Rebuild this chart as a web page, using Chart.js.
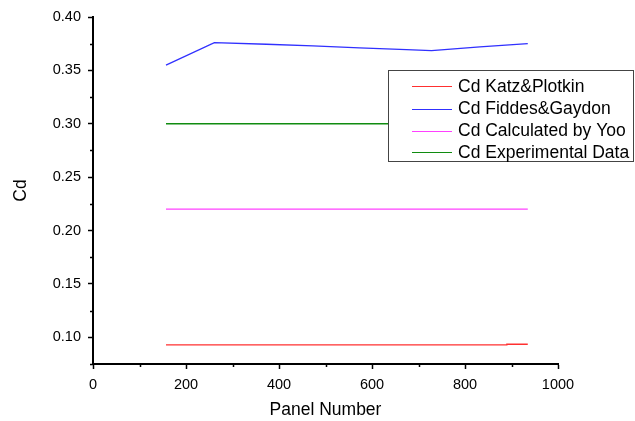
<!DOCTYPE html>
<html><head><meta charset="utf-8">
<script src="https://cdn.jsdelivr.net/npm/chart.js@4.4.1/dist/chart.umd.min.js"></script>
<style>html,body{margin:0;padding:0;background:#fff;}canvas{display:block;}</style>
</head><body>
<canvas id="c" width="635" height="421"></canvas>
<script>
const seriesNames = ['Cd Katz&Plotkin', 'Cd Fiddes&Gaydon', 'Cd Calculated by Yoo', 'Cd Experimental Data'];
const katzX = [157, 889, 890, 935];
const katzY = [0.0929, 0.0929, 0.0935, 0.0935];
const fiddesX = [157, 261, 373, 473, 573, 674, 728, 832, 935];
const fiddesY = [0.355, 0.376, 0.3745, 0.373, 0.371, 0.3695, 0.3686, 0.372, 0.375];
const yooX = [157, 935];
const yooY = [0.22, 0.22];
const expX = [157, 935];
const expY = [0.30, 0.30];
const xTicks = [0, 200, 400, 600, 800, 1000];
const xMinorTicks = [100, 300, 500, 700, 900];
const yTicks = [0.10, 0.15, 0.20, 0.25, 0.30, 0.35, 0.40];
const yMinorTicks = [0.075, 0.125, 0.175, 0.225, 0.275, 0.325, 0.375];
const colors = ['#ff3030', '#3030ff', '#ff40ff', '#108c10'];

const pts = (xs, ys) => xs.map((x, i) => ({x, y: ys[i]}));
const FONT = "'Liberation Sans', Arial, sans-serif";

const minorPlugin = {
  id: 'minor',
  afterDraw(chart) {
    const ctx = chart.ctx, xs = chart.scales.x, ys = chart.scales.y;
    ctx.save();
    ctx.strokeStyle = '#000';
    ctx.lineWidth = 1.5;
    ctx.beginPath();
    xMinorTicks.forEach(v => {
      const px = Math.round(xs.getPixelForValue(v)) + 0.5;
      ctx.moveTo(px, xs.top); ctx.lineTo(px, xs.top + 3);
    });
    yMinorTicks.forEach(v => {
      const py = Math.round(ys.getPixelForValue(v)) + 0.5;
      ctx.moveTo(ys.right, py); ctx.lineTo(ys.right - 3, py);
    });
    ctx.stroke();
    ctx.restore();
  }
};

const legendPlugin = {
  id: 'boxLegend',
  afterDatasetsDraw(chart) {
    const ctx = chart.ctx;
    const left = 388, top = 70, right = 634, bottom = 162;
    ctx.save();
    ctx.fillStyle = '#fff';
    ctx.fillRect(left, top, right - left, bottom - top);
    ctx.strokeStyle = '#444';
    ctx.lineWidth = 1;
    ctx.strokeRect(left + 0.5, top + 0.5, right - left - 1, bottom - top - 1);
    ctx.font = '17.5px ' + FONT;
    ctx.textBaseline = 'middle';
    ctx.textAlign = 'left';
    const rows = [86, 108.5, 130.5, 152];
    chart.data.datasets.forEach((ds, i) => {
      const y = Math.round(rows[i]) + 0.5;
      ctx.strokeStyle = ds.borderColor;
      ctx.lineWidth = 1.2;
      ctx.beginPath(); ctx.moveTo(412, y); ctx.lineTo(452, y); ctx.stroke();
      ctx.fillStyle = '#000';
      ctx.fillText(ds.label, 458, rows[i] + 1);
    });
    ctx.restore();
  }
};

new Chart(document.getElementById('c'), {
  type: 'line',
  data: {
    datasets: [
      {label: seriesNames[0], data: pts(katzX, katzY), borderColor: colors[0]},
      {label: seriesNames[1], data: pts(fiddesX, fiddesY), borderColor: colors[1]},
      {label: seriesNames[2], data: pts(yooX, yooY), borderColor: colors[2]},
      {label: seriesNames[3], data: pts(expX, expY), borderColor: colors[3]}
    ]
  },
  options: {
    responsive: false,
    animation: false,
    layout: {padding: {top: 17, right: 77, left: 0, bottom: 0}},
    elements: {line: {borderWidth: 1.3, tension: 0}, point: {radius: 0}},
    plugins: {legend: {display: false}, tooltip: {enabled: false}},
    scales: {
      x: {
        type: 'linear', min: 0, max: 1000,
        afterBuildTicks: s => { s.ticks = xTicks.map(v => ({value: v})); },
        afterFit: s => { s.height = 57; },
        ticks: {color: '#000', font: {family: FONT, size: 14.5}, padding: 7, maxRotation: 0,
                callback: v => String(v)},
        grid: {drawOnChartArea: false, drawTicks: true, tickLength: 5, tickColor: '#000', tickWidth: 1.5},
        border: {display: true, color: '#000', width: 2},
        title: {display: true, text: 'Panel Number', color: '#000', font: {family: FONT, size: 17.5}, padding: 0}
      },
      y: {
        type: 'linear', min: 0.075, max: 0.40,
        afterBuildTicks: s => { s.ticks = yTicks.map(v => ({value: v})); },
        afterFit: s => { s.width = 93; },
        ticks: {color: '#000', font: {family: FONT, size: 14.5}, padding: 7,
                callback: v => Number(v).toFixed(2)},
        grid: {drawOnChartArea: false, drawTicks: true, tickLength: 5, tickColor: '#000', tickWidth: 1.5},
        border: {display: true, color: '#000', width: 2},
        title: {display: true, text: 'Cd', color: '#000', font: {family: FONT, size: 17.5}, padding: {top: 11, bottom: 0}}
      }
    }
  },
  plugins: [minorPlugin, legendPlugin]
});
</script>
</body></html>
